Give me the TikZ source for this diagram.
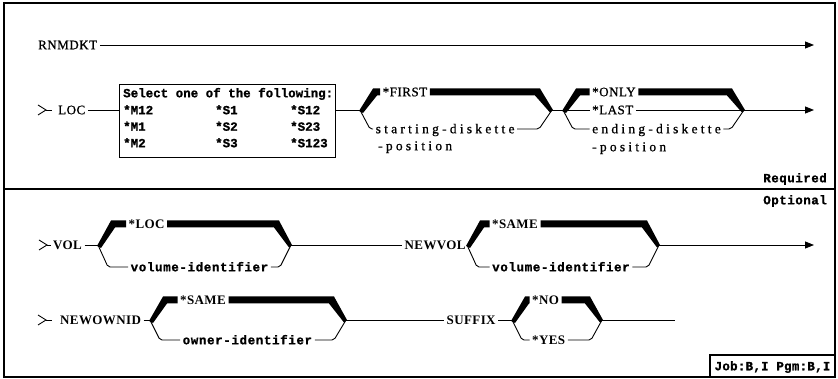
\documentclass[tikz,border=0pt]{standalone}
\usepackage{fontspec}
\setmainfont{Liberation Serif}
\newfontfamily\fsr[LetterSpace=4,FakeBold=0.8]{Liberation Serif}
\newfontfamily\fsl[LetterSpace=24,FakeBold=0.8]{Liberation Serif}
\newfontfamily\fsb[LetterSpace=3]{Liberation Serif}
\newfontfamily\fmb[LetterSpace=5,FakeBold=1.2]{Liberation Mono}
\newfontfamily\fmk[LetterSpace=0,FakeBold=1.2]{Liberation Mono}
\newfontfamily\fml[LetterSpace=4,FakeBold=1.2]{Liberation Mono}
\newfontfamily\fmj[LetterSpace=2,FakeBold=1.2]{Liberation Mono}
\usetikzlibrary{arrows.meta}
\newcommand\thkL[4]{\fill ({#1-1},{#2+1}) -- ({#1+13},{#3-3.5}) -- (#4,{#3-3.5}) -- (#4,{#3+3.5}) -- ({#1+17},{#3+3.5}) -- ({#1+3},{#2+3}) -- cycle;}
\newcommand\thkR[4]{\fill ([yshift=3.5pt]#1.east) -- ({#2-12},{#4-3.5}) -- ({#2+1},#3) -- ({#2-2},{#3+2.5}) -- ({#2-17},{#4+3.5}) -- ([yshift=-3.5pt]#1.east) -- cycle;}
\newcommand\chev[2]{\draw[ln] ({#1-8},{#2-5}) -- (#1,#2) -- ({#1-8},{#2+5});}
\begin{document}
\begin{tikzpicture}[x=1pt,y=-1pt,
  ln/.style={line width=0.9pt},
  arr/.style={-{Triangle[length=9pt,width=7pt]}},
  txt/.style={inner sep=2.5pt,anchor=west,text height=8.5pt,text depth=0pt},
  sr/.style={txt,font=\fsr\fontsize{13}{15}\selectfont},
  sl/.style={txt,font=\fsl\fontsize{13.5}{15}\selectfont},
  sb/.style={txt,font=\fsb\bfseries\fontsize{13}{15}\selectfont},
  mb/.style={txt,font=\fmb\bfseries\fontsize{12.5}{15}\selectfont},
  mk/.style={inner sep=2pt,anchor=west,text height=8.5pt,text depth=0pt,font=\fmk\bfseries\fontsize{12.5}{15}\selectfont},
  ml/.style={inner sep=2pt,text height=8.5pt,text depth=0pt,font=\fml\bfseries\fontsize{12.5}{15}\selectfont}]
\useasboundingbox (0,0) rectangle (838,379);
% frame
\draw[line width=1.2pt] (4,3) rectangle (835,377);
\draw[line width=1.5pt] (4,189) -- (835,189);
% ---------- RNMDKT ----------
\node[sr] (rn) at (35.5,45) {RNMDKT};
\coordinate (rnend) at (814,45);
\draw[ln,arr] (rn.east) -- (rnend);
% ---------- LOC row ----------
\chev{46}{110}
\coordinate (s1) at (46,110);
\coordinate (s1b) at (52,110);
\draw[ln] (s1) -- (s1b);
\node[sr] (loc) at (55.5,110) {LOC};
\node[draw,line width=1pt,minimum width=216pt,minimum height=73pt,inner sep=0pt,anchor=north west] (sel) at (119,84) {};
\draw[ln] (loc.east) -- (loc.east -| sel.west);
\node[mk] (b0) at (121,93) {Select one of the following:};
\node[mk] (b1) at (121,110) {*M12};
\node[mk] (b2) at (121,126.5) {*M1};
\node[mk] (b3) at (121,143) {*M2};
\node[mk] (b4) at (213,110) {*S1};
\node[mk] (b5) at (213,126.5) {*S2};
\node[mk] (b6) at (213,143) {*S3};
\node[mk] (b7) at (288,110) {*S12};
\node[mk] (b8) at (288,126.5) {*S23};
\node[mk] (b9) at (288,143) {*S123};
\coordinate (J1) at (360,110);
\draw[ln] (J1 -| sel.east) -- (J1);
% group 1
\node[sr] (first) at (380,92) {*FIRST};
\node[sl] (sd) at (373,129) {starting-diskette};
\node[sl] (pos1) at (375.5,146) {-position};
\coordinate (E1) at (552,110);
\thkL{360}{110}{92}{380}
\thkR{first}{552}{110}{92}
\draw[ln,rounded corners=2pt] (J1) -- (370,129) -- (sd.west);
\draw[ln,rounded corners=2pt] (sd.east) -- (539,129) -- (E1);
\coordinate (J2) at (563,110);
\draw[ln] (E1) -- (J2);
% group 2
\node[sr] (only) at (589.5,92) {*ONLY};
\node[sr] (last) at (589.5,110) {*LAST};
\node[sl] (ed) at (589.5,129) {ending-diskette};
\node[sl] (pos2) at (589.5,147) {-position};
\coordinate (E2) at (744,110);
\thkL{563}{110}{92}{589.5}
\thkR{only}{744}{110}{92}
\draw[ln] (J2) -- (last.west);
\draw[ln] (last.east) -- (E2);
\draw[ln,rounded corners=2pt] (J2) -- (573,129) -- (ed.west);
\draw[ln,rounded corners=2pt] (ed.east) -- (731,129) -- (E2);
\coordinate (locend) at (814,110);
\draw[ln,arr] (E2) -- (locend);
\node[ml,anchor=east] (req) at (829,178) {Required};
% ---------- Optional ----------
\node[ml,anchor=east] (opt) at (829,200) {Optional};
% VOL row
\chev{47}{245}
\coordinate (s2) at (47,245);
\node[sb] (vol) at (50.5,245) {VOL};
\draw[ln] (s2) -- (vol.west);
\coordinate (J3) at (98,245);
\draw[ln] (vol.east) -- (J3);
\node[sb] (loc2) at (126,224) {*LOC};
\node[mb] (vi1) at (128,267) {volume-identifier};
\coordinate (E3) at (291,245);
\thkL{98}{245}{224}{126}
\thkR{loc2}{291}{245}{224}
\draw[ln,rounded corners=2pt] (J3) -- (108,267) -- (vi1.west);
\draw[ln,rounded corners=2pt] (vi1.east) -- (280,267) -- (E3);
\node[sb] (nv) at (402,245) {NEWVOL};
\draw[ln] (E3) -- (nv.west);
\coordinate (J4) at (467,245);
\draw[ln] (nv.east) -- (J4);
\node[sb] (same1) at (489.5,224) {*SAME};
\node[mb] (vi2) at (489.5,267) {volume-identifier};
\coordinate (E4) at (659,245);
\thkL{467}{245}{224}{489.5}
\thkR{same1}{659}{245}{224}
\draw[ln,rounded corners=2pt] (J4) -- (477,267) -- (vi2.west);
\draw[ln,rounded corners=2pt] (vi2.east) -- (648,267) -- (E4);
\coordinate (volend) at (814,245);
\draw[ln,arr] (E4) -- (volend);
% NEWOWNID row
\chev{46}{320}
\coordinate (s3) at (46,320);
\coordinate (s3b) at (52,320);
\draw[ln] (s3) -- (s3b);
\node[sb] (nid) at (57.5,320) {NEWOWNID};
\coordinate (J5) at (150,320);
\draw[ln] (nid.east) -- (J5);
\node[sb] (same2) at (177.5,300) {*SAME};
\node[mb] (oi) at (180,340) {owner-identifier};
\coordinate (E5) at (346,320);
\thkL{150}{320}{300}{177.5}
\thkR{same2}{346}{320}{300}
\draw[ln,rounded corners=2pt] (J5) -- (160,340) -- (oi.west);
\draw[ln,rounded corners=2pt] (oi.east) -- (334,340) -- (E5);
\node[sb] (sfx) at (444,320) {SUFFIX};
\draw[ln] (E5) -- (sfx.west);
\coordinate (J6) at (512,320);
\draw[ln] (sfx.east) -- (J6);
\node[sb] (no) at (529.5,300) {*NO};
\node[sb] (yes) at (529.5,340) {*YES};
\coordinate (E6) at (602,320);
\thkL{512}{320}{300}{529.5}
\thkR{no}{602}{320}{300}
\draw[ln,rounded corners=2pt] (J6) -- (522,340) -- (yes.west);
\draw[ln,rounded corners=2pt] (yes.east) -- (591,340) -- (E6);
\coordinate (nidend) at (675,320);
\draw[ln] (E6) -- (nidend);
% Job box
\draw[line width=1.2pt] (710,355) rectangle (835,377);
\node[ml,font=\fmj\bfseries\fontsize{12.5}{15}\selectfont] (job) at (772.5,366) {Job:B,I Pgm:B,I};
\end{tikzpicture}
\end{document}
